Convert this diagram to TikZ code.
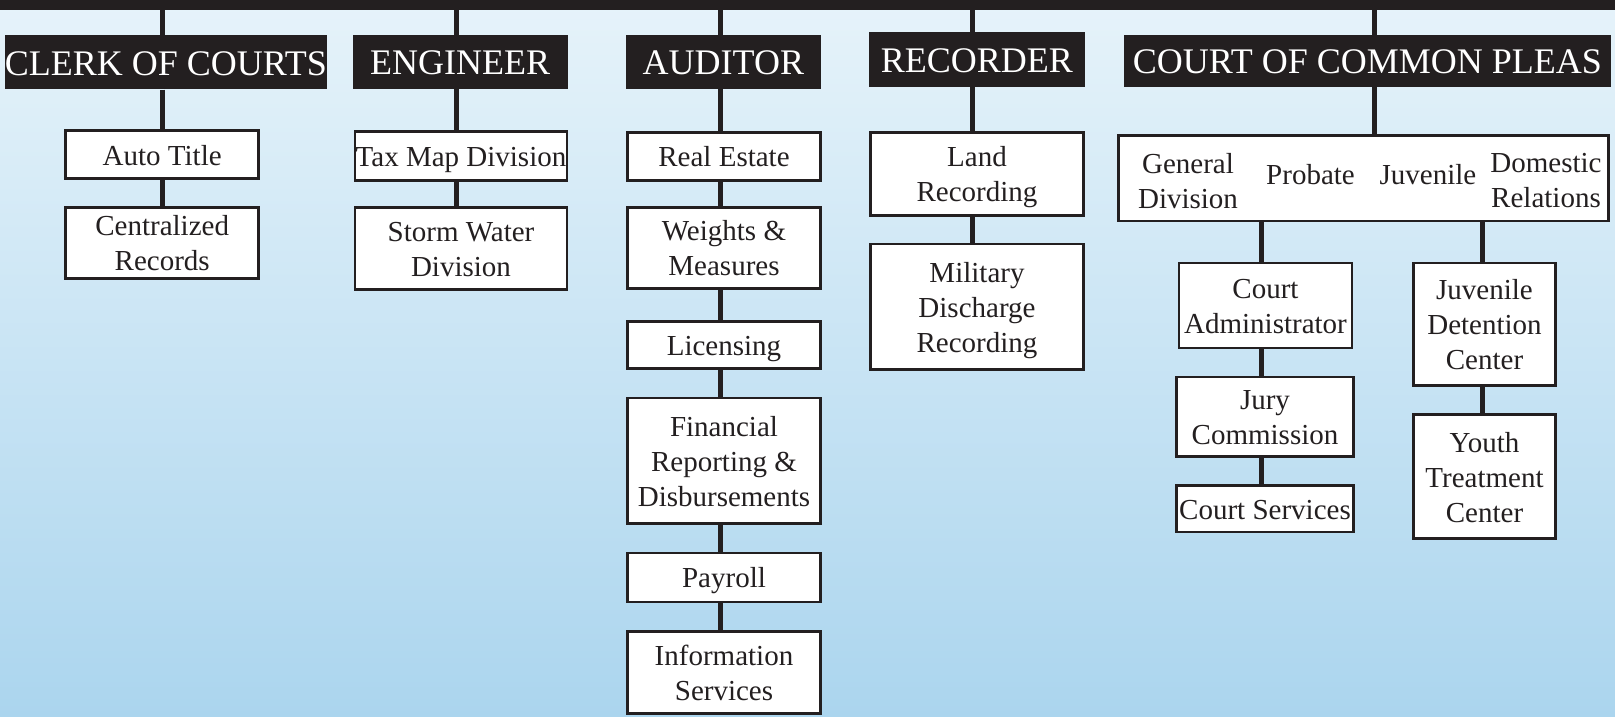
\documentclass[tikz,border=0pt]{standalone}
\usepackage{fontspec}
\setmainfont{Liberation Serif}
\definecolor{ink}{HTML}{231F20}
\definecolor{bgtop}{HTML}{E6F3FA}
\definecolor{bgbot}{HTML}{ABD5EE}
\begin{document}
\begin{tikzpicture}[x=1pt,y=-1pt,
  office/.style={fill=ink, text=white, inner sep=0pt,
    font=\fontsize{36}{40}\selectfont, text height=28pt, text depth=2.4pt},
  osize/.style 2 args={minimum width=#1pt, minimum height=#2pt},
  % text box measured from the last baseline, 35pt per extra line
  label/.style={text=ink, inner sep=0pt, align=center,
    font=\fontsize{29}{35}\selectfont, text height=27.6pt, text depth=7pt},
  two/.style={text height=62.6pt},
  three/.style={text height=97.6pt},
  unit/.style={label, draw=ink, line width=2.6pt, fill=white},
  usize/.style 2 args={minimum width={#1pt-2.6pt}, minimum height={#2pt-2.6pt}},
  link/.style={draw=ink, line width=5pt}]
\useasboundingbox (0,0) rectangle (1615,717);
\shade[top color=bgtop, bottom color=bgbot] (0,0) rectangle (1615,717);

% top rule
\node[fill=ink, inner sep=0pt, minimum width=1615pt, minimum height=9.5pt,
  anchor=north west] (bar) at (0,0) {};

% column axes
\coordinate (xclerk) at (162.5,0);
\coordinate (xeng) at (456,0);
\coordinate (xaud) at (720,0);
\coordinate (xrec) at (972.5,0);
\coordinate (xccp) at (1374,0);
\coordinate (xgen) at (1261,0);
\coordinate (xjuv) at (1482,0);

% elected offices
\node[office, osize={321.8}{54.3}] (hclerk) at (165.9,62.2) {CLERK OF COURTS};
\node[office, osize={214.6}{54}] (heng) at (460.2,62) {ENGINEER};
\node[office, osize={194.7}{53.7}] (haud) at (723.4,61.9) {AUDITOR};
\node[office, osize={215.6}{54.7}] (hrec) at (976.8,59.4) {RECORDER};
\node[office, osize={486.7}{51.7}] (hccp) at (1367.4,60.9) {COURT OF COMMON PLEAS};

% clerk of courts
\node[unit, usize={195.7}{50.7}] (autotitle) at (162.2,154.7) {Auto Title};
\node[unit, two, usize={195.7}{74}] (central) at (162.2,243) {Centralized\\Records};

% engineer
\node[unit, usize={214.9}{51.7}] (taxmap) at (461,155.9) {Tax Map Division};
\node[unit, two, usize={214.9}{85}] (storm) at (461,248.5) {Storm Water\\Division};

% auditor
\node[unit, usize={196}{50.7}] (realest) at (724,156.4) {Real Estate};
\node[unit, two, usize={196}{84}] (weights) at (724,248) {Weights \&\\Measures};
\node[unit, usize={196}{50}] (licensing) at (724,345) {Licensing};
\node[unit, three, usize={196}{128.3}] (financial) at (724,460.9) {Financial\\Reporting \&\\Disbursements};
\node[unit, usize={196}{51.6}] (payroll) at (724,577.5) {Payroll};
\node[unit, two, usize={196}{85}] (infoserv) at (724,672.5) {Information\\Services};

% recorder
\node[unit, two, usize={216}{85.7}] (land) at (977,173.9) {Land\\Recording};
\node[unit, three, usize={216}{128.1}] (military) at (977,306.8) {Military\\Discharge\\Recording};

% court of common pleas
\node[unit, usize={492.7}{88.3}] (divisions) at (1363.7,178.2) {};
\node[label, two] (general) at (1188,180.4) {General\\Division};
\node[label] (probate) at (1310.5,173.7) {Probate};
\node[label] (juvenile) at (1428,173.7) {Juvenile};
\node[label, two] (domestic) at (1546,179.2) {Domestic\\Relations};

\node[unit, two, usize={175.6}{87.6}] (courtadmin) at (1265.5,305.5) {Court\\Administrator};
\node[unit, two, usize={180}{82}] (jury) at (1265,416.7) {Jury\\Commission};
\node[unit, usize={180}{49.3}] (courtserv) at (1265,508.7) {Court Services};
\node[unit, three, usize={144.4}{125}] (juvdet) at (1484.5,324.2) {Juvenile\\Detention\\Center};
\node[unit, three, usize={144.4}{126.7}] (youth) at (1484.5,476.7) {Youth\\Treatment\\Center};

% reporting lines
\begin{scope}[link]
  \draw (xclerk |- bar.south) -- (xclerk |- hclerk.north);
  \draw (xclerk |- hclerk.south) -- (xclerk |- autotitle.north);
  \draw (xclerk |- autotitle.south) -- (xclerk |- central.north);

  \draw (xeng |- bar.south) -- (xeng |- heng.north);
  \draw (xeng |- heng.south) -- (xeng |- taxmap.north);
  \draw (xeng |- taxmap.south) -- (xeng |- storm.north);

  \draw (xaud |- bar.south) -- (xaud |- haud.north);
  \draw (xaud |- haud.south) -- (xaud |- realest.north);
  \draw (xaud |- realest.south) -- (xaud |- weights.north);
  \draw (xaud |- weights.south) -- (xaud |- licensing.north);
  \draw (xaud |- licensing.south) -- (xaud |- financial.north);
  \draw (xaud |- financial.south) -- (xaud |- payroll.north);
  \draw (xaud |- payroll.south) -- (xaud |- infoserv.north);

  \draw (xrec |- bar.south) -- (xrec |- hrec.north);
  \draw (xrec |- hrec.south) -- (xrec |- land.north);
  \draw (xrec |- land.south) -- (xrec |- military.north);

  \draw (xccp |- bar.south) -- (xccp |- hccp.north);
  \draw (xccp |- hccp.south) -- (xccp |- divisions.north);
  \draw (xgen |- divisions.south) -- (xgen |- courtadmin.north);
  \draw (xgen |- courtadmin.south) -- (xgen |- jury.north);
  \draw (xgen |- jury.south) -- (xgen |- courtserv.north);
  \draw (xjuv |- divisions.south) -- (xjuv |- juvdet.north);
  \draw (xjuv |- juvdet.south) -- (xjuv |- youth.north);
\end{scope}
\end{tikzpicture}
\end{document}
